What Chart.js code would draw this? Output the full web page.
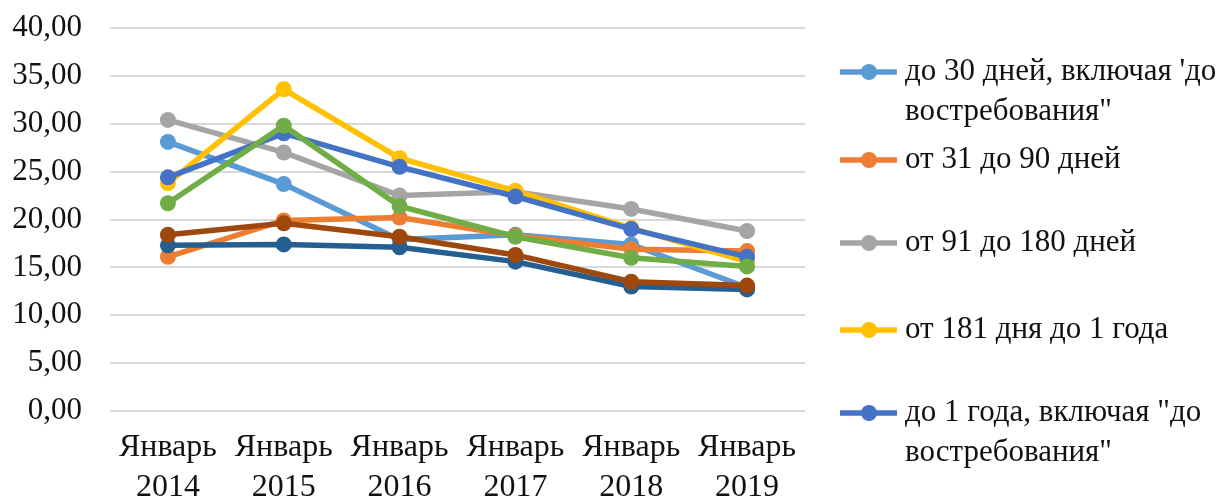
<!DOCTYPE html>
<html lang="ru">
<head>
  <meta charset="UTF-8">
  <title>Ставки по срокам</title>
  <script src="https://cdn.jsdelivr.net/npm/chart.js"></script>
  <style>
    body {
      margin: 0;
      padding: 0;
      background: #fff;
    }
    #wrap {
      width: 1228px;
      height: 499px;
    }
  </style>
</head>
<body>
  <div id="wrap"><canvas id="rateChart" width="1228" height="499"></canvas></div>
  <script>
    const categories = [["Январь", "2014"], ["Январь", "2015"], ["Январь", "2016"], ["Январь", "2017"], ["Январь", "2018"], ["Январь", "2019"]];

    const seriesNames = [
      "до 30 дней, включая 'до востребования\"",
      "от 31 до 90 дней",
      "от 91 до 180 дней",
      "от 181 дня до 1 года",
      "до 1 года, включая \"до востребования\"",
      "от 1 года до 3 лет",
      "свыше 3 лет",
      "свыше 1 года"
    ];
    // legend lines as they wrap in the picture (only first five are visible)
    const legendLines = [
      ["до 30 дней, включая 'до", "востребования\""],
      ["от 31 до 90 дней"],
      ["от 91 до 180 дней"],
      ["от 181 дня до 1 года"],
      ["до 1 года, включая \"до", "востребования\""]
    ];

    const upTo30 = [28.1, 23.7, 17.9, 18.4, 17.4, 12.9];
    const d31to90 = [16.1, 19.9, 20.2, 18.3, 16.9, 16.7];
    const d91to180 = [30.4, 27.0, 22.5, 22.9, 21.1, 18.8];
    const d181to1y = [23.8, 33.6, 26.4, 23.0, 19.1, 15.6];
    const upTo1y = [24.4, 29.0, 25.5, 22.4, 19.0, 16.1];
    const y1to3 = [21.7, 29.8, 21.4, 18.2, 16.0, 15.1];
    const over3y = [17.3, 17.4, 17.1, 15.6, 13.0, 12.7];
    const over1y = [18.4, 19.6, 18.2, 16.3, 13.5, 13.1];

    const yTicks = [0, 5, 10, 15, 20, 25, 30, 35, 40];

    const allSeries = [upTo30, d31to90, d91to180, d181to1y, upTo1y, y1to3, over3y, over1y];
    const colors = ["#5B9BD5", "#ED7D31", "#A5A5A5", "#FFC000", "#4472C4", "#70AD47", "#255E91", "#9E480E"];

    const FONT = "'Liberation Serif', 'Times New Roman', serif";

    const datasets = allSeries.map((data, i) => ({
      label: seriesNames[i],
      data: data,
      borderColor: colors[i],
      backgroundColor: colors[i],
      borderWidth: 5.5,
      pointRadius: 8,
      pointHoverRadius: 8,
      pointBorderWidth: 0,
      tension: 0,
      fill: false,
      order: allSeries.length - i
    }));

    // legend drawn by hand so the labels can wrap like in the original
    const sideLegend = {
      id: "sideLegend",
      afterDraw(chart) {
        const ctx = chart.ctx;
        const rowsY = [72, 160, 243, 330, 413];
        ctx.save();
        ctx.font = "31px " + FONT;
        ctx.textBaseline = "middle";
        ctx.textAlign = "left";
        legendLines.forEach((lines, i) => {
          const y = rowsY[i];
          ctx.strokeStyle = colors[i];
          ctx.lineWidth = 5.5;
          ctx.beginPath();
          ctx.moveTo(840, y);
          ctx.lineTo(897, y);
          ctx.stroke();
          ctx.fillStyle = colors[i];
          ctx.beginPath();
          ctx.arc(869, y, 8, 0, Math.PI * 2);
          ctx.fill();
          ctx.fillStyle = "#111";
          lines.forEach((t, k) => ctx.fillText(t, 905, y + k * 40));
        });
        ctx.restore();
      }
    };

    new Chart(document.getElementById("rateChart"), {
      type: "line",
      data: {
        labels: categories,
        datasets: datasets
      },
      options: {
        responsive: false,
        animation: false,
        layout: {
          padding: { top: 28, right: 423, left: 0, bottom: 0 }
        },
        plugins: {
          legend: { display: false },
          tooltip: { enabled: false }
        },
        scales: {
          x: {
            offset: true,
            grid: { display: false, drawTicks: false },
            border: { display: false },
            ticks: {
              color: "#111",
              font: { family: FONT, size: 32, lineHeight: 1.25 },
              padding: 17,
              maxRotation: 0,
              autoSkip: false
            },
            afterFit(scale) { scale.height = 88; }
          },
          y: {
            min: 0,
            max: 40,
            afterBuildTicks(scale) {
              scale.ticks = yTicks.map(v => ({ value: v }));
            },
            grid: { color: "#D9D9D9", lineWidth: 2, drawTicks: false },
            border: { display: false },
            ticks: {
              color: "#111",
              font: { family: FONT, size: 31 },
              padding: 28,
              callback: v => v.toFixed(2).replace(".", ",")
            },
            afterFit(scale) {
              scale.width = 110;
              scale.paddingTop = 0;
            }
          }
        }
      },
      plugins: [sideLegend]
    });
  </script>
</body>
</html>
